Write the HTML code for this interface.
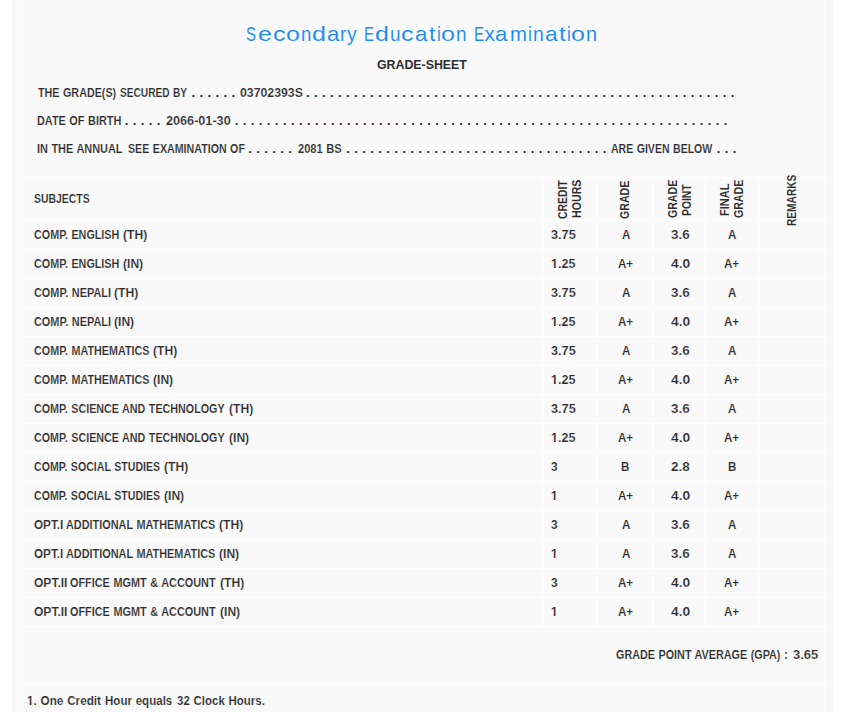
<!DOCTYPE html>
<html><head><meta charset="utf-8"><title>Grade-Sheet</title>
<style>
html,body{margin:0;padding:0;background:#fff;}
body{width:845px;height:712px;overflow:hidden;position:relative;font-family:"Liberation Sans", sans-serif;color:#2c2c2c;}
.outer{position:absolute;left:12px;top:0;width:821px;height:712px;background:#f8f8f8;}
.inner{position:absolute;left:19px;top:-1px;width:805px;height:720px;background:#f9f9f9;border:1px solid #fff;}
.hl{position:absolute;left:20px;width:805px;height:1px;background:#fff;}
.vl{position:absolute;top:177px;width:1px;height:450px;background:#fff;}
.t{position:absolute;white-space:nowrap;word-spacing:0.6px;line-height:20px;height:20px;transform-origin:0 50%;font-weight:700;font-size:12.6px;-webkit-text-stroke:0.16px #f9f9f9;}
.ttl{-webkit-text-stroke:0.06px #f9f9f9;}
.hv{-webkit-text-stroke:0;}
.r{position:absolute;white-space:nowrap;line-height:20px;height:20px;transform-origin:0 0;font-weight:700;font-size:12.6px;-webkit-text-stroke:0.08px #f9f9f9;}
.d{position:absolute;white-space:pre;line-height:20px;height:20px;font-weight:700;font-size:13px;letter-spacing:0.396px;}

</style></head><body>
<div class="outer"></div><div class="inner"></div>
<div class="hl" style="top:177px"></div>
<div class="hl" style="top:220px"></div>
<div class="hl" style="top:249px"></div>
<div class="hl" style="top:278px"></div>
<div class="hl" style="top:307px"></div>
<div class="hl" style="top:336px"></div>
<div class="hl" style="top:365px"></div>
<div class="hl" style="top:394px"></div>
<div class="hl" style="top:423px"></div>
<div class="hl" style="top:452px"></div>
<div class="hl" style="top:481px"></div>
<div class="hl" style="top:510px"></div>
<div class="hl" style="top:539px"></div>
<div class="hl" style="top:568px"></div>
<div class="hl" style="top:597px"></div>
<div class="hl" style="top:626px"></div>
<div class="hl" style="top:683px"></div>
<div class="vl" style="left:542px"></div>
<div class="vl" style="left:597px"></div>
<div class="vl" style="left:653px"></div>
<div class="vl" style="left:705px"></div>
<div class="vl" style="left:758px"></div>
<span class="t hv" id="t0" style="left:376.61px;top:55.09px;font-size:13.6px;transform:scaleX(0.9083);">GRADE-SHEET</span>
<span class="t" id="t1" style="left:37.61px;top:82.63px;transform:scaleX(0.8537);">THE GRADE(S)</span>
<span class="t" id="t2" style="left:119.72px;top:82.63px;transform:scaleX(0.8052);">SECURED BY</span>
<span class="t" id="t3" style="left:239.56px;top:82.63px;transform:scaleX(0.9755);">03702393S</span>
<span class="t" id="t4" style="left:37.01px;top:110.63px;transform:scaleX(0.8644);">DATE OF BIRTH</span>
<span class="t" id="t5" style="left:165.60px;top:110.63px;transform:scaleX(1.0040);">2066-01-30</span>
<span class="t" id="t6" style="left:37.01px;top:138.63px;transform:scaleX(0.8659);">IN THE ANNUAL</span>
<span class="t" id="t7" style="left:127.80px;top:138.63px;transform:scaleX(0.8466);">SEE EXAMINATION OF</span>
<span class="t" id="t8" style="left:298.35px;top:138.63px;transform:scaleX(0.8815);">2081 BS</span>
<span class="t" id="t9" style="left:611.35px;top:138.63px;transform:scaleX(0.8382);">ARE GIVEN BELOW</span>
<span class="t" id="t10" style="left:33.91px;top:188.63px;transform:scaleX(0.8282);">SUBJECTS</span>
<span class="t" id="t11" style="left:33.77px;top:224.93px;transform:scaleX(0.8554);">COMP. ENGLISH</span>
<span class="t" id="t12" style="left:122.92px;top:224.93px;transform:scaleX(0.9628);">(TH)</span>
<span class="t" id="t13" style="left:550.75px;top:224.93px;transform:scaleX(1.0098);">3.75</span>
<span class="t" id="t14" style="left:621.51px;top:224.93px;transform:scaleX(0.9200);">A</span>
<span class="t" id="t15" style="left:670.73px;top:224.93px;transform:scaleX(1.0677);">3.6</span>
<span class="t" id="t16" style="left:727.71px;top:224.93px;transform:scaleX(0.9200);">A</span>
<span class="t" id="t17" style="left:33.77px;top:253.93px;transform:scaleX(0.8554);">COMP. ENGLISH</span>
<span class="t" id="t18" style="left:122.92px;top:253.93px;transform:scaleX(0.9598);">(IN)</span>
<span class="t" id="t19" style="left:550.95px;top:253.93px;transform:scaleX(0.9972);clip-path:path(evenodd,'M-3 -3H400V24H-3Z M-0.50 12.58H2.94V14.80H-0.50Z M4.67 12.58H7.57V14.80H4.67Z');">1.25</span>
<span class="t" id="t20" style="left:618.23px;top:253.93px;transform:scaleX(0.9200);">A+</span>
<span class="t" id="t21" style="left:670.59px;top:253.93px;transform:scaleX(1.0974);">4.0</span>
<span class="t" id="t22" style="left:724.43px;top:253.93px;transform:scaleX(0.9200);">A+</span>
<span class="t" id="t23" style="left:33.77px;top:282.93px;transform:scaleX(0.8650);">COMP. NEPALI</span>
<span class="t" id="t24" style="left:114.42px;top:282.93px;transform:scaleX(0.9628);">(TH)</span>
<span class="t" id="t25" style="left:550.75px;top:282.93px;transform:scaleX(1.0098);">3.75</span>
<span class="t" id="t26" style="left:621.51px;top:282.93px;transform:scaleX(0.9200);">A</span>
<span class="t" id="t27" style="left:670.73px;top:282.93px;transform:scaleX(1.0677);">3.6</span>
<span class="t" id="t28" style="left:727.71px;top:282.93px;transform:scaleX(0.9200);">A</span>
<span class="t" id="t29" style="left:33.77px;top:311.93px;transform:scaleX(0.8650);">COMP. NEPALI</span>
<span class="t" id="t30" style="left:114.42px;top:311.93px;transform:scaleX(0.9598);">(IN)</span>
<span class="t" id="t31" style="left:550.95px;top:311.93px;transform:scaleX(0.9972);clip-path:path(evenodd,'M-3 -3H400V24H-3Z M-0.50 12.58H2.94V14.80H-0.50Z M4.67 12.58H7.57V14.80H4.67Z');">1.25</span>
<span class="t" id="t32" style="left:618.23px;top:311.93px;transform:scaleX(0.9200);">A+</span>
<span class="t" id="t33" style="left:670.59px;top:311.93px;transform:scaleX(1.0974);">4.0</span>
<span class="t" id="t34" style="left:724.43px;top:311.93px;transform:scaleX(0.9200);">A+</span>
<span class="t" id="t35" style="left:33.77px;top:340.93px;transform:scaleX(0.8557);">COMP. MATHEMATICS</span>
<span class="t" id="t36" style="left:153.42px;top:340.93px;transform:scaleX(0.9628);">(TH)</span>
<span class="t" id="t37" style="left:550.75px;top:340.93px;transform:scaleX(1.0098);">3.75</span>
<span class="t" id="t38" style="left:621.51px;top:340.93px;transform:scaleX(0.9200);">A</span>
<span class="t" id="t39" style="left:670.73px;top:340.93px;transform:scaleX(1.0677);">3.6</span>
<span class="t" id="t40" style="left:727.71px;top:340.93px;transform:scaleX(0.9200);">A</span>
<span class="t" id="t41" style="left:33.77px;top:369.93px;transform:scaleX(0.8557);">COMP. MATHEMATICS</span>
<span class="t" id="t42" style="left:153.42px;top:369.93px;transform:scaleX(0.9598);">(IN)</span>
<span class="t" id="t43" style="left:550.95px;top:369.93px;transform:scaleX(0.9972);clip-path:path(evenodd,'M-3 -3H400V24H-3Z M-0.50 12.58H2.94V14.80H-0.50Z M4.67 12.58H7.57V14.80H4.67Z');">1.25</span>
<span class="t" id="t44" style="left:618.23px;top:369.93px;transform:scaleX(0.9200);">A+</span>
<span class="t" id="t45" style="left:670.59px;top:369.93px;transform:scaleX(1.0974);">4.0</span>
<span class="t" id="t46" style="left:724.43px;top:369.93px;transform:scaleX(0.9200);">A+</span>
<span class="t" id="t47" style="left:33.77px;top:398.93px;transform:scaleX(0.8522);">COMP. SCIENCE AND TECHNOLOGY</span>
<span class="t" id="t48" style="left:229.02px;top:398.93px;transform:scaleX(0.9628);">(TH)</span>
<span class="t" id="t49" style="left:550.75px;top:398.93px;transform:scaleX(1.0098);">3.75</span>
<span class="t" id="t50" style="left:621.51px;top:398.93px;transform:scaleX(0.9200);">A</span>
<span class="t" id="t51" style="left:670.73px;top:398.93px;transform:scaleX(1.0677);">3.6</span>
<span class="t" id="t52" style="left:727.71px;top:398.93px;transform:scaleX(0.9200);">A</span>
<span class="t" id="t53" style="left:33.77px;top:427.93px;transform:scaleX(0.8522);">COMP. SCIENCE AND TECHNOLOGY</span>
<span class="t" id="t54" style="left:229.02px;top:427.93px;transform:scaleX(0.9598);">(IN)</span>
<span class="t" id="t55" style="left:550.95px;top:427.93px;transform:scaleX(0.9972);clip-path:path(evenodd,'M-3 -3H400V24H-3Z M-0.50 12.58H2.94V14.80H-0.50Z M4.67 12.58H7.57V14.80H4.67Z');">1.25</span>
<span class="t" id="t56" style="left:618.23px;top:427.93px;transform:scaleX(0.9200);">A+</span>
<span class="t" id="t57" style="left:670.59px;top:427.93px;transform:scaleX(1.0974);">4.0</span>
<span class="t" id="t58" style="left:724.43px;top:427.93px;transform:scaleX(0.9200);">A+</span>
<span class="t" id="t59" style="left:33.78px;top:456.93px;transform:scaleX(0.8422);">COMP. SOCIAL STUDIES</span>
<span class="t" id="t60" style="left:164.22px;top:456.93px;transform:scaleX(0.9628);">(TH)</span>
<span class="t" id="t61" style="left:550.85px;top:456.93px;transform:scaleX(0.9500);">3</span>
<span class="t" id="t62" style="left:621.40px;top:456.93px;transform:scaleX(0.9200);">B</span>
<span class="t" id="t63" style="left:670.57px;top:456.93px;transform:scaleX(1.0741);">2.8</span>
<span class="t" id="t64" style="left:727.60px;top:456.93px;transform:scaleX(0.9200);">B</span>
<span class="t" id="t65" style="left:33.78px;top:485.93px;transform:scaleX(0.8422);">COMP. SOCIAL STUDIES</span>
<span class="t" id="t66" style="left:164.22px;top:485.93px;transform:scaleX(0.9598);">(IN)</span>
<span class="t" id="t67" style="left:550.66px;top:485.93px;transform:scaleX(0.9500);clip-path:path(evenodd,'M-3 -3H400V24H-3Z M-0.50 12.58H2.94V14.80H-0.50Z M4.67 12.58H7.57V14.80H4.67Z');">1</span>
<span class="t" id="t68" style="left:618.23px;top:485.93px;transform:scaleX(0.9200);">A+</span>
<span class="t" id="t69" style="left:670.59px;top:485.93px;transform:scaleX(1.0974);">4.0</span>
<span class="t" id="t70" style="left:724.43px;top:485.93px;transform:scaleX(0.9200);">A+</span>
<span class="t" id="t71" style="left:33.73px;top:514.93px;transform:scaleX(0.9303);">OPT.I</span>
<span class="t" id="t72" style="left:65.84px;top:514.93px;transform:scaleX(0.8644);">ADDITIONAL MATHEMATICS</span>
<span class="t" id="t73" style="left:219.42px;top:514.93px;transform:scaleX(0.9628);">(TH)</span>
<span class="t" id="t74" style="left:550.85px;top:514.93px;transform:scaleX(0.9500);">3</span>
<span class="t" id="t75" style="left:621.51px;top:514.93px;transform:scaleX(0.9200);">A</span>
<span class="t" id="t76" style="left:670.73px;top:514.93px;transform:scaleX(1.0677);">3.6</span>
<span class="t" id="t77" style="left:727.71px;top:514.93px;transform:scaleX(0.9200);">A</span>
<span class="t" id="t78" style="left:33.73px;top:543.93px;transform:scaleX(0.9303);">OPT.I</span>
<span class="t" id="t79" style="left:65.84px;top:543.93px;transform:scaleX(0.8644);">ADDITIONAL MATHEMATICS</span>
<span class="t" id="t80" style="left:219.42px;top:543.93px;transform:scaleX(0.9598);">(IN)</span>
<span class="t" id="t81" style="left:550.66px;top:543.93px;transform:scaleX(0.9500);clip-path:path(evenodd,'M-3 -3H400V24H-3Z M-0.50 12.58H2.94V14.80H-0.50Z M4.67 12.58H7.57V14.80H4.67Z');">1</span>
<span class="t" id="t82" style="left:621.51px;top:543.93px;transform:scaleX(0.9200);">A</span>
<span class="t" id="t83" style="left:670.73px;top:543.93px;transform:scaleX(1.0677);">3.6</span>
<span class="t" id="t84" style="left:727.71px;top:543.93px;transform:scaleX(0.9200);">A</span>
<span class="t" id="t85" style="left:33.72px;top:572.93px;transform:scaleX(0.9553);">OPT.II</span>
<span class="t" id="t86" style="left:69.97px;top:572.93px;transform:scaleX(0.8636);">OFFICE MGMT &amp; ACCOUNT</span>
<span class="t" id="t87" style="left:220.42px;top:572.93px;transform:scaleX(0.9628);">(TH)</span>
<span class="t" id="t88" style="left:550.85px;top:572.93px;transform:scaleX(0.9500);">3</span>
<span class="t" id="t89" style="left:618.23px;top:572.93px;transform:scaleX(0.9200);">A+</span>
<span class="t" id="t90" style="left:670.59px;top:572.93px;transform:scaleX(1.0974);">4.0</span>
<span class="t" id="t91" style="left:724.43px;top:572.93px;transform:scaleX(0.9200);">A+</span>
<span class="t" id="t92" style="left:33.72px;top:601.93px;transform:scaleX(0.9553);">OPT.II</span>
<span class="t" id="t93" style="left:69.97px;top:601.93px;transform:scaleX(0.8636);">OFFICE MGMT &amp; ACCOUNT</span>
<span class="t" id="t94" style="left:220.42px;top:601.93px;transform:scaleX(0.9598);">(IN)</span>
<span class="t" id="t95" style="left:550.66px;top:601.93px;transform:scaleX(0.9500);clip-path:path(evenodd,'M-3 -3H400V24H-3Z M-0.50 12.58H2.94V14.80H-0.50Z M4.67 12.58H7.57V14.80H4.67Z');">1</span>
<span class="t" id="t96" style="left:618.23px;top:601.93px;transform:scaleX(0.9200);">A+</span>
<span class="t" id="t97" style="left:670.59px;top:601.93px;transform:scaleX(1.0974);">4.0</span>
<span class="t" id="t98" style="left:724.43px;top:601.93px;transform:scaleX(0.9200);">A+</span>
<span class="t" id="t99" style="left:616.07px;top:644.93px;transform:scaleX(0.8571);">GRADE POINT AVERAGE (GPA)</span>
<span class="t" id="t100" style="left:784.30px;top:644.93px;transform:scaleX(0.9500);">:</span>
<span class="t" id="t101" style="left:792.54px;top:644.93px;transform:scaleX(1.0306);">3.65</span>
<span class="t" id="t102" style="left:26.90px;top:691.23px;transform:scaleX(0.9299);clip-path:path(evenodd,'M-3 -3H400V24H-3Z M-0.50 12.58H2.94V14.80H-0.50Z M4.67 12.58H7.57V14.80H4.67Z');">1. One Credit</span>
<span class="t" id="t103" style="left:105.47px;top:691.23px;transform:scaleX(0.9167);">Hour equals</span>
<span class="t" id="t104" style="left:176.67px;top:691.23px;transform:scaleX(0.9116);">32 Clock Hours.</span>
<span class="t ttl" style="left:246.49px;top:24.19px;font-size:20.8px;font-weight:400;color:#1c8cf0;transform:scaleX(0.7200);">S</span>
<span class="t ttl" style="left:257.68px;top:24.19px;font-size:20.8px;font-weight:400;color:#1c8cf0;transform:scaleX(1.2000);">e</span>
<span class="t ttl" style="left:272.56px;top:24.19px;font-size:20.8px;font-weight:400;color:#1c8cf0;transform:scaleX(1.2000);">c</span>
<span class="t ttl" style="left:286.38px;top:24.19px;font-size:20.8px;font-weight:400;color:#1c8cf0;transform:scaleX(1.2000);">o</span>
<span class="t ttl" style="left:301.04px;top:24.19px;font-size:20.8px;font-weight:400;color:#1c8cf0;transform:scaleX(0.8901);">n</span>
<span class="t ttl" style="left:311.92px;top:24.19px;font-size:20.8px;font-weight:400;color:#1c8cf0;transform:scaleX(1.2000);">d</span>
<span class="t ttl" style="left:326.70px;top:24.19px;font-size:20.8px;font-weight:400;color:#1c8cf0;transform:scaleX(1.0769);">a</span>
<span class="t ttl" style="left:340.10px;top:24.19px;font-size:20.8px;font-weight:400;color:#1c8cf0;transform:scaleX(0.9231);">r</span>
<span class="t ttl" style="left:346.80px;top:24.19px;font-size:20.8px;font-weight:400;color:#1c8cf0;transform:scaleX(0.9327);">y</span>
<span class="t ttl" style="left:363.79px;top:24.19px;font-size:20.8px;font-weight:400;color:#1c8cf0;transform:scaleX(0.7200);">E</span>
<span class="t ttl" style="left:375.12px;top:24.19px;font-size:20.8px;font-weight:400;color:#1c8cf0;transform:scaleX(1.2000);">d</span>
<span class="t ttl" style="left:389.61px;top:24.19px;font-size:20.8px;font-weight:400;color:#1c8cf0;transform:scaleX(0.9121);">u</span>
<span class="t ttl" style="left:401.31px;top:24.19px;font-size:20.8px;font-weight:400;color:#1c8cf0;transform:scaleX(1.2000);">c</span>
<span class="t ttl" style="left:415.01px;top:24.19px;font-size:20.8px;font-weight:400;color:#1c8cf0;transform:scaleX(1.0679);">a</span>
<span class="t ttl" style="left:429.30px;top:24.19px;font-size:20.8px;font-weight:400;color:#1c8cf0;transform:scaleX(1.1111);">t</span>
<span class="t ttl" style="left:436.93px;top:24.19px;font-size:20.8px;font-weight:400;color:#1c8cf0;transform:scaleX(0.8205);">i</span>
<span class="t ttl" style="left:441.32px;top:24.19px;font-size:20.8px;font-weight:400;color:#1c8cf0;transform:scaleX(1.2000);">o</span>
<span class="t ttl" style="left:456.21px;top:24.19px;font-size:20.8px;font-weight:400;color:#1c8cf0;transform:scaleX(0.9121);">n</span>
<span class="t ttl" style="left:474.31px;top:24.19px;font-size:20.8px;font-weight:400;color:#1c8cf0;transform:scaleX(0.7297);">E</span>
<span class="t ttl" style="left:484.60px;top:24.19px;font-size:20.8px;font-weight:400;color:#1c8cf0;transform:scaleX(1.0000);">x</span>
<span class="t ttl" style="left:495.31px;top:24.19px;font-size:20.8px;font-weight:400;color:#1c8cf0;transform:scaleX(1.0679);">a</span>
<span class="t ttl" style="left:509.63px;top:24.19px;font-size:20.8px;font-weight:400;color:#1c8cf0;transform:scaleX(0.9766);">m</span>
<span class="t ttl" style="left:528.03px;top:24.19px;font-size:20.8px;font-weight:400;color:#1c8cf0;transform:scaleX(0.8205);">i</span>
<span class="t ttl" style="left:532.99px;top:24.19px;font-size:20.8px;font-weight:400;color:#1c8cf0;transform:scaleX(0.9341);">n</span>
<span class="t ttl" style="left:544.69px;top:24.19px;font-size:20.8px;font-weight:400;color:#1c8cf0;transform:scaleX(1.0950);">a</span>
<span class="t ttl" style="left:558.70px;top:24.19px;font-size:20.8px;font-weight:400;color:#1c8cf0;transform:scaleX(1.1624);">t</span>
<span class="t ttl" style="left:566.63px;top:24.19px;font-size:20.8px;font-weight:400;color:#1c8cf0;transform:scaleX(0.8205);">i</span>
<span class="t ttl" style="left:571.17px;top:24.19px;font-size:20.8px;font-weight:400;color:#1c8cf0;transform:scaleX(1.2000);">o</span>
<span class="t ttl" style="left:586.16px;top:24.19px;font-size:20.8px;font-weight:400;color:#1c8cf0;transform:scaleX(0.9560);">n</span>
<span class="r" id="r0" style="left:552.63px;top:219.01px;transform:rotate(-90deg) scaleX(0.8250);">CREDIT</span>
<span class="r" id="r1" style="left:566.73px;top:218.48px;transform:rotate(-90deg) scaleX(0.8452);">HOURS</span>
<span class="r" id="r2" style="left:614.63px;top:218.62px;transform:rotate(-90deg) scaleX(0.8440);">GRADE</span>
<span class="r" id="r3" style="left:663.23px;top:218.22px;transform:rotate(-90deg) scaleX(0.8395);">GRADE</span>
<span class="r" id="r4" style="left:677.03px;top:215.96px;transform:rotate(-90deg) scaleX(0.8217);">POINT</span>
<span class="r" id="r5" style="left:714.53px;top:215.90px;transform:rotate(-90deg) scaleX(0.8791);">FINAL</span>
<span class="r" id="r6" style="left:729.23px;top:218.22px;transform:rotate(-90deg) scaleX(0.8395);">GRADE</span>
<span class="r" id="r7" style="left:782.33px;top:225.65px;transform:rotate(-90deg) scaleX(0.8071);">REMARKS</span>
<span class="d" id="d0" style="left:191.49px;top:82.50px">. . . . . .</span>
<span class="d" id="d1" style="left:305.99px;top:82.50px">. . . . . . . . . . . . . . . . . . . . . . . . . . . . . . . . . . . . . . . . . . . . . . . . . . . . . .</span>
<span class="d" id="d2" style="left:124.79px;top:110.50px">. . . . .</span>
<span class="d" id="d3" style="left:234.79px;top:110.50px">. . . . . . . . . . . . . . . . . . . . . . . . . . . . . . . . . . . . . . . . . . . . . . . . . . . . . . . . . . . . . .</span>
<span class="d" id="d4" style="left:248.19px;top:138.50px">. . . . . .</span>
<span class="d" id="d5" style="left:346.29px;top:138.50px">. . . . . . . . . . . . . . . . . . . . . . . . . . . . . . . . .</span>
<span class="d" id="d6" style="left:716.79px;top:138.50px">. . .</span>
</body></html>
